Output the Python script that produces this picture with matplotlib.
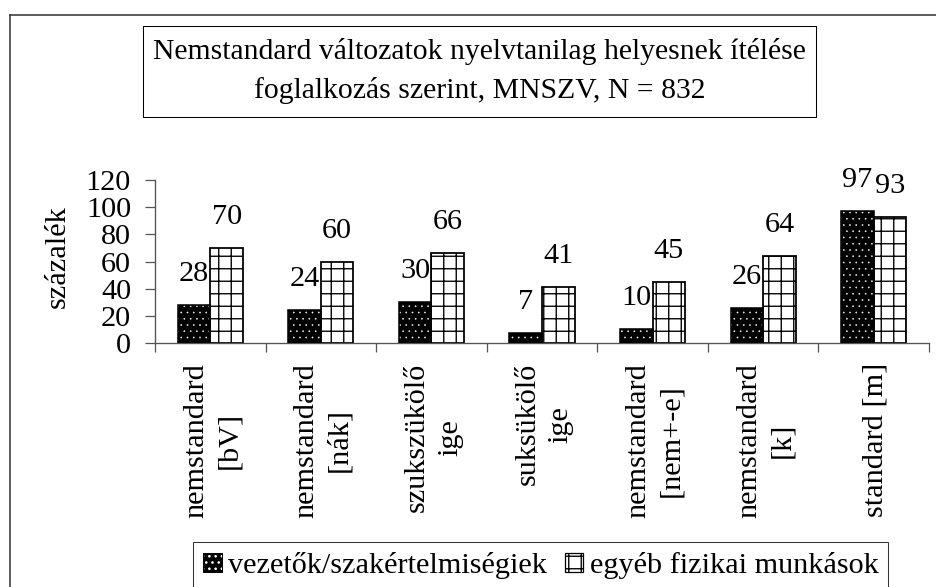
import numpy as np
import matplotlib
matplotlib.use("Agg")
import matplotlib.pyplot as plt
from matplotlib.patches import Patch, Rectangle
from matplotlib.lines import Line2D
from matplotlib.legend_handler import HandlerTuple

# dpi 75 so that the hatch cell (1 inch) is ~12.5 px like the original
DPI = 75
W_PX, H_PX = 936, 587

plt.rcParams.update({
    "font.family": ["Liberation Serif", "DejaVu Serif"],
    "hatch.linewidth": 1.3,
})

# -----------------------------
# Data
# -----------------------------
categories = [
    "nemstandard\n[bV]",
    "nemstandard\n[nák]",
    "szukszükölő\nige",
    "suksükölő\nige",
    "nemstandard\n[nem+-e]",
    "nemstandard\n[k]",
    "standard [m]",
]
vezetok = [28, 24, 30, 7, 10, 26, 97]
fizikai = [70, 60, 66, 41, 45, 64, 93]
yticks = [0, 20, 40, 60, 80, 100, 120]

series_names = ["vezetők/szakértelmiségiek", "egyéb fizikai munkások"]
title_lines = ["Nemstandard változatok nyelvtanilag helyesnek ítélése",
               "foglalkozás szerint, MNSZV, N = 832"]

FS = 29
FS_TITLE = 28.5
AXC = "#555555"


def px2pt(p):
    return p * 72.0 / DPI


fig = plt.figure(figsize=(W_PX / DPI, H_PX / DPI), dpi=DPI, facecolor="white")

# axes box in pixels: x 155..929, y 180..343
ax = fig.add_axes([155 / W_PX, 1 - 343 / H_PX, 774 / W_PX, 163 / H_PX])

x = np.arange(len(categories))
w = 0.295
off = 0.1475

# dotted black bars: black fill + white dot hatch, then a black outline
with plt.rc_context({"hatch.linewidth": 0.4}):
    dots = ax.bar(x - off, vezetok, w, color="black", edgecolor="white", hatch="..",
                  linewidth=0, zorder=2)
    for p in dots:
        if hasattr(p, "set_hatch_linewidth"):
            p.set_hatch_linewidth(0.4)
ax.bar(x - off, vezetok, w, fill=False, edgecolor="black", linewidth=1.5, zorder=3)
# grid bars
ax.bar(x + off, fizikai, w, facecolor="white", edgecolor="black", hatch="+",
       linewidth=1.7, zorder=2)

for xi, v in zip(x - off, vezetok):
    ax.annotate(str(v), (xi, v), xytext=(0, px2pt(31)), textcoords="offset points",
                ha="center", va="center", fontsize=FS)
for xi, v in zip(x + off, fizikai):
    ax.annotate(str(v), (xi, v), xytext=(0, px2pt(31)), textcoords="offset points",
                ha="center", va="center", fontsize=FS)

ax.set_xlim(-0.5, len(categories) - 0.5)
ax.set_ylim(0, 120)
ax.set_yticks(yticks)
ax.set_yticklabels([str(t) for t in yticks], fontsize=FS)
ax.set_xticks(np.arange(-0.5, len(categories), 1))
ax.set_xticklabels([])
ax.tick_params(axis="y", direction="out", length=px2pt(10), width=1.2,
               color=AXC, pad=px2pt(14))
ax.tick_params(axis="x", direction="out", length=px2pt(9), width=1.2, color=AXC)
for s in ("top", "right"):
    ax.spines[s].set_visible(False)
for s in ("left", "bottom"):
    ax.spines[s].set_color(AXC)
    ax.spines[s].set_linewidth(1.3)
ax.set_facecolor("none")

# category labels, rotated
for xi, lab in zip(x, categories):
    ax.text(xi + 0.02, -20 / 163, lab, transform=ax.get_xaxis_transform(),
            rotation=90, ha="center", va="top", multialignment="center",
            fontsize=FS, linespacing=1.35)

ax.text(-97 / 774, 86 / 163, "százalék", transform=ax.transAxes, rotation=90,
        ha="center", va="center", fontsize=FS)

# title box
fig.add_artist(Rectangle((143 / W_PX, 1 - 117 / H_PX), (816 - 143) / W_PX, 91 / H_PX,
                         transform=fig.transFigure, fill=False,
                         edgecolor="black", linewidth=1.0))
for line, base in zip(title_lines, [59, 98]):
    fig.text(479.5 / W_PX, 1 - base / H_PX, line, ha="center", va="baseline",
             fontsize=FS_TITLE)

# outer chart border (only left and top visible in the crop)
fig.add_artist(Line2D([10 / W_PX, 10 / W_PX], [0, 1 - 15 / H_PX],
                      transform=fig.transFigure, color="#333333", lw=1.5))
fig.add_artist(Line2D([10 / W_PX, 1], [1 - 15 / H_PX, 1 - 15 / H_PX],
                      transform=fig.transFigure, color="#333333", lw=1.5))

# legend
with plt.rc_context({"hatch.linewidth": 0.4}):
    hd = Patch(facecolor="black", edgecolor="white", hatch="..", linewidth=0)
    if hasattr(hd, "set_hatch_linewidth"):
        hd.set_hatch_linewidth(0.4)
h1 = (hd, Patch(fill=False, edgecolor="black", linewidth=1.0))
h2 = Patch(facecolor="white", edgecolor="black", hatch="+", linewidth=1.2)
leg = fig.legend([h1, h2], series_names, ncol=2, loc="upper left",
                 bbox_to_anchor=(193 / W_PX, 1 - 542 / H_PX),
                 borderaxespad=0, fontsize=FS, frameon=True, fancybox=False,
                 handlelength=0.62, handleheight=0.62, handletextpad=0.2,
                 columnspacing=0.6, borderpad=0.33,
                 handler_map={tuple: HandlerTuple(ndivide=1)})
leg.get_frame().set_edgecolor("black")
leg.get_frame().set_linewidth(1.0)

fig.savefig("out.png", dpi=DPI, facecolor="white")
